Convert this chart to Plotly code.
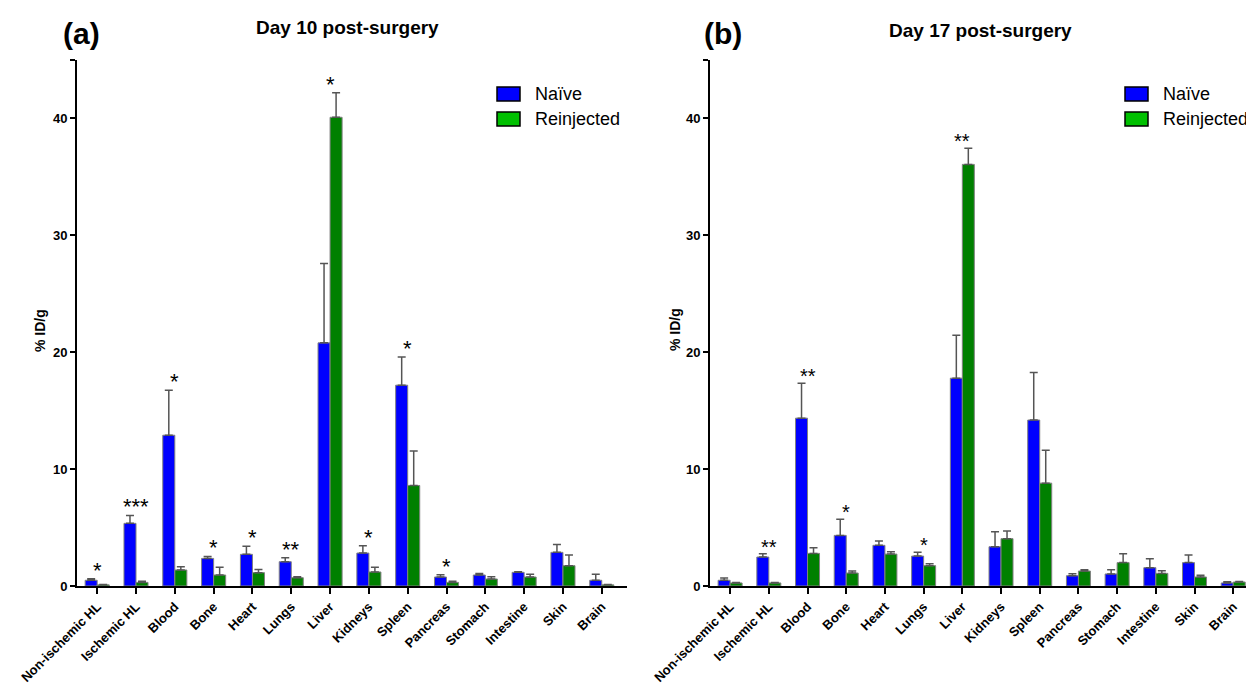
import plotly.graph_objects as go

categories = ["Non-ischemic HL", "Ischemic HL", "Blood", "Bone", "Heart", "Lungs", "Liver",
              "Kidneys", "Spleen", "Pancreas", "Stomach", "Intestine", "Skin", "Brain"]

# Day 10 post-surgery (%ID/g)
naive10 = [0.49, 5.36, 12.9, 2.36, 2.71, 2.08, 20.8, 2.82, 17.18, 0.77, 0.94, 1.17, 2.88, 0.49]
naive10_err = [0.13, 0.68, 3.85, 0.17, 0.68, 0.34, 6.8, 0.63, 2.42, 0.2, 0.14, 0.05, 0.68, 0.51]
reinj10 = [0.1, 0.31, 1.37, 0.94, 1.14, 0.71, 40.1, 1.2, 8.6, 0.31, 0.6, 0.77, 1.74, 0.1]
reinj10_err = [0.03, 0.09, 0.28, 0.66, 0.28, 0.09, 2.1, 0.4, 2.94, 0.09, 0.2, 0.23, 0.91, 0.02]
stars10 = ["*", "***", "*", "*", "*", "**", "*", "*", "*", "*", "", "", "", ""]

# Day 17 post-surgery (%ID/g)
naive17 = [0.49, 2.48, 14.36, 4.33, 3.48, 2.56, 17.78, 3.36, 14.2, 0.88, 1.03, 1.57, 2.0, 0.26]
naive17_err = [0.19, 0.28, 2.99, 1.37, 0.37, 0.32, 3.67, 1.28, 4.06, 0.17, 0.37, 0.77, 0.65, 0.11]
reinj17 = [0.26, 0.26, 2.79, 1.11, 2.73, 1.74, 36.07, 4.05, 8.8, 1.28, 2.0, 1.08, 0.77, 0.34]
reinj17_err = [0.05, 0.05, 0.49, 0.17, 0.2, 0.17, 1.37, 0.65, 2.82, 0.12, 0.76, 0.23, 0.14, 0.05]
stars17 = ["", "**", "**", "*", "", "*", "**", "", "", "", "", "", "", ""]

y_ticks = [0, 10, 20, 30, 40, 45]
y_ticktext = ["0", "10", "20", "30", "40", ""]

W, H = 1246, 684
FONT = "Arial, Liberation Sans, sans-serif"
BLUE = "#0000FF"
GREEN = "#008000"
LEG_GREEN = "#00C000"
idx = list(range(len(categories)))

fig = go.Figure()


def add_panel(naive, naive_err, reinj, reinj_err, xa, ya):
    for vals, errs, col, name in [(naive, naive_err, BLUE, "Naïve"), (reinj, reinj_err, GREEN, "Reinjected")]:
        fig.add_trace(go.Bar(
            x=idx, y=vals, name=name, showlegend=False,
            marker=dict(color=col, line=dict(color="#808080", width=1)),
            error_y=dict(type="data", array=errs, arrayminus=[0] * len(errs), symmetric=False,
                         color="#555555", thickness=1.5, width=4),
            xaxis=xa, yaxis=ya,
        ))


add_panel(naive10, naive10_err, reinj10, reinj10_err, "x", "y")
add_panel(naive17, naive17_err, reinj17, reinj17_err, "x2", "y2")

annotations = []
for stars, nv, ne, rv, re_, xr, yr, fs in [
    (stars10, naive10, naive10_err, reinj10, reinj10_err, "x", "y", 22),
    (stars17, naive17, naive17_err, reinj17, reinj17_err, "x2", "y2", 20),
]:
    for i, s in enumerate(stars):
        if s:
            top = max(nv[i] + ne[i], rv[i] + re_[i])
            annotations.append(dict(x=i, y=top, xref=xr, yref=yr, text=s, showarrow=False,
                                    yanchor="bottom", yshift=-6,
                                    font=dict(family=FONT, size=fs, color="black")))


def px(x):
    return x / W


def py(y):
    return 1 - y / H


# titles and panel letters
for txt, x, y, size in [("<b>Day 10 post-surgery</b>", 348, 27, 19),
                        ("<b>Day 17 post-surgery</b>", 980, 31, 19),
                        ("<b>(a)</b>", 81, 33, 30),
                        ("<b>(b)</b>", 723, 33, 30)]:
    annotations.append(dict(x=px(x), y=py(y), xref="paper", yref="paper", text=txt, showarrow=False,
                            xanchor="center", yanchor="middle",
                            font=dict(family=FONT, size=size, color="black")))

# y axis titles
for x in [40, 675]:
    annotations.append(dict(x=px(x), y=py(330), xref="paper", yref="paper", text="<b>% ID/g</b>",
                            showarrow=False, textangle=-90, xanchor="center", yanchor="middle",
                            font=dict(family=FONT, size=14, color="black")))

# legends
shapes = []
for lx in [497, 1125]:
    for j, (col, name) in enumerate([(BLUE, "Naïve"), (LEG_GREEN, "Reinjected")]):
        yc = 94 + 25 * j
        shapes.append(dict(type="rect", xref="paper", yref="paper",
                           x0=px(lx), x1=px(lx + 23), y0=py(yc + 7), y1=py(yc - 7),
                           fillcolor=col, line=dict(color="black", width=1.5)))
        annotations.append(dict(x=px(lx + 36), y=py(yc), xref="paper", yref="paper", text=name,
                                showarrow=False, xanchor="left", yanchor="middle",
                                font=dict(family=FONT, size=18, color="black")))

xaxis_common = dict(tickmode="array", tickvals=idx, ticktext=categories, tickangle=-45,
                    tickfont=dict(family=FONT, size=13, color="black", weight="bold"),
                    showline=True, linecolor="black", linewidth=2, ticks="outside", ticklen=6,
                    tickwidth=2, tickcolor="black", showgrid=False, zeroline=False, automargin=False)
yaxis_common = dict(range=[0, 45], tickmode="array", tickvals=y_ticks, ticktext=y_ticktext,
                    tickfont=dict(family=FONT, size=13, color="black", weight="bold"),
                    showline=True, linecolor="black", linewidth=2, ticks="outside", ticklen=5,
                    tickwidth=2, tickcolor="black", showgrid=False, zeroline=False, automargin=False)

y_dom = [py(586), py(60)]
fig.update_layout(
    width=W, height=H,
    margin=dict(l=0, r=0, t=0, b=0),
    paper_bgcolor="white", plot_bgcolor="white",
    barmode="group", bargap=0.38, bargroupgap=0,
    showlegend=False,
    xaxis=dict(domain=[px(77), px(627)], range=[-0.52, 13.65], anchor="y", **xaxis_common),
    yaxis=dict(domain=y_dom, anchor="x", **yaxis_common),
    xaxis2=dict(domain=[px(710), 1.0], range=[-0.52, 13.33], anchor="y2", **xaxis_common),
    yaxis2=dict(domain=y_dom, anchor="x2", **yaxis_common),
    annotations=annotations,
    shapes=shapes,
    font=dict(family=FONT, color="black"),
)

fig.write_html("out.html", config={"displayModeBar": False},
               post_script="document.body.style.margin='0';")
